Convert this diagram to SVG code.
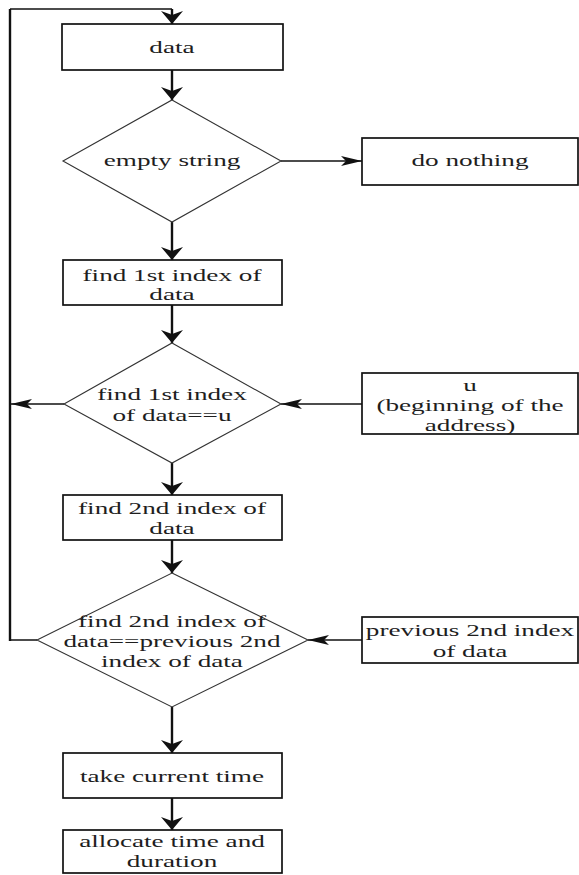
<svg xmlns="http://www.w3.org/2000/svg" width="579" height="875" viewBox="0 0 579 875">
<style>
  .box { fill: #ffffff; stroke: #111111; stroke-width: 1.7; }
  .dia { fill: #ffffff; stroke: #333333; stroke-width: 1.1; }
  .lbl { font-family: "Liberation Serif", "Times New Roman", serif; font-size: 16px; fill: #1e1e1e; text-anchor: middle; }
  .cv { fill: none; stroke: #111111; stroke-width: 2.4; }
  .ch { fill: none; stroke: #111111; stroke-width: 1.5; }
</style>
<defs>
  <marker id="arrV" markerUnits="userSpaceOnUse" markerWidth="16" markerHeight="24" refX="14" refY="12" orient="auto" viewBox="0 0 16 24">
    <path d="M1,1 L14,12 L1,23 L5,12 Z" fill="#111111"/>
  </marker>
  <marker id="arrH" markerUnits="userSpaceOnUse" markerWidth="22" markerHeight="12" refX="21" refY="6" orient="auto" viewBox="0 0 22 12">
    <path d="M0,1 L21,6 L0,11 L5,6 Z" fill="#111111"/>
  </marker>
</defs>
<rect width="579" height="875" fill="#ffffff"/>

<g id="connectors">
  <polyline class="ch" points="37,640 10,640"/>
  <polyline class="cv" points="10,641 10,9"/>
  <polyline class="ch" points="10,9 172,9"/>
  <line class="cv" x1="172" y1="9" x2="172" y2="24" marker-end="url(#arrV)"/>
  <line class="cv" x1="172" y1="70" x2="172" y2="100" marker-end="url(#arrV)"/>
  <line class="ch" x1="281" y1="161" x2="362" y2="161" marker-end="url(#arrH)"/>
  <line class="cv" x1="172" y1="222" x2="172" y2="260" marker-end="url(#arrV)"/>
  <line class="cv" x1="172" y1="305" x2="172" y2="343" marker-end="url(#arrV)"/>
  <line class="ch" x1="362" y1="404" x2="281" y2="404" marker-end="url(#arrH)"/>
  <line class="ch" x1="64" y1="404" x2="11" y2="404" marker-end="url(#arrH)"/>
  <line class="cv" x1="172" y1="463" x2="172" y2="495" marker-end="url(#arrV)"/>
  <line class="cv" x1="172" y1="540" x2="172" y2="573" marker-end="url(#arrV)"/>
  <line class="ch" x1="362" y1="640" x2="308" y2="640" marker-end="url(#arrH)"/>
  <line class="cv" x1="172" y1="707" x2="172" y2="753" marker-end="url(#arrV)"/>
  <line class="cv" x1="172" y1="798" x2="172" y2="830" marker-end="url(#arrV)"/>
</g>

<g id="data">
  <rect class="box" x="62" y="24" width="221" height="46"/>
  <text class="lbl" transform="translate(172,53) scale(1.7,1)">data</text>
</g>

<g id="empty-string">
  <polygon class="dia" points="172,100 281,161 172,222 63,161"/>
  <text class="lbl" transform="translate(172,166) scale(1.7,1)">empty string</text>
</g>

<g id="do-nothing">
  <rect class="box" x="362" y="138" width="216" height="47"/>
  <text class="lbl" transform="translate(470,166) scale(1.7,1)">do nothing</text>
</g>

<g id="find-1st">
  <rect class="box" x="63" y="260" width="219" height="45"/>
  <text class="lbl" transform="translate(172,280.5) scale(1.7,1)">find 1st index of</text>
  <text class="lbl" transform="translate(172,299.5) scale(1.7,1)">data</text>
</g>

<g id="check-1st">
  <polygon class="dia" points="172,343 281,404 172,463 64,404"/>
  <text class="lbl" transform="translate(172,400) scale(1.7,1)">find 1st index</text>
  <text class="lbl" transform="translate(172,420.5) scale(1.7,1)">of data==u</text>
</g>

<g id="u-box">
  <rect class="box" x="362" y="373" width="216" height="61"/>
  <text class="lbl" transform="translate(470,391) scale(1.7,1)">u</text>
  <text class="lbl" transform="translate(470,411) scale(1.7,1)">(beginning of the</text>
  <text class="lbl" transform="translate(470,431) scale(1.7,1)">address)</text>
</g>

<g id="find-2nd">
  <rect class="box" x="63" y="495" width="219" height="45"/>
  <text class="lbl" transform="translate(172,513.5) scale(1.7,1)">find 2nd index of</text>
  <text class="lbl" transform="translate(172,534) scale(1.7,1)">data</text>
</g>

<g id="check-2nd">
  <polygon class="dia" points="172,573 308,640 172,707 37,640"/>
  <text class="lbl" transform="translate(172,627) scale(1.7,1)">find 2nd index of</text>
  <text class="lbl" transform="translate(172,647) scale(1.7,1)">data==previous 2nd</text>
  <text class="lbl" transform="translate(172,667) scale(1.7,1)">index of data</text>
</g>

<g id="previous-2nd">
  <rect class="box" x="362" y="617" width="216" height="46"/>
  <text class="lbl" transform="translate(470,636) scale(1.7,1)">previous 2nd index</text>
  <text class="lbl" transform="translate(470,656.5) scale(1.7,1)">of data</text>
</g>

<g id="take-time">
  <rect class="box" x="63" y="753" width="219" height="45"/>
  <text class="lbl" transform="translate(172,782) scale(1.7,1)">take current time</text>
</g>

<g id="allocate">
  <rect class="box" x="63" y="830" width="219" height="43"/>
  <text class="lbl" transform="translate(172,847) scale(1.7,1)">allocate time and</text>
  <text class="lbl" transform="translate(172,867) scale(1.7,1)">duration</text>
</g>
</svg>
